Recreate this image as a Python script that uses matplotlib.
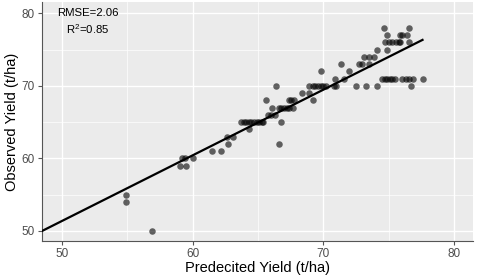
import numpy as np
import matplotlib
matplotlib.use("Agg")
import matplotlib.pyplot as plt

plt.rcParams["font.family"] = ["Liberation Sans", "DejaVu Sans"]
plt.rcParams["mathtext.fontset"] = "custom"
plt.rcParams["mathtext.rm"] = "Liberation Sans"
plt.rcParams["mathtext.it"] = "Liberation Sans"

# observed yield (t/ha) -> predicted yields
obs_levels = [50, 54, 55, 59, 60, 61, 62, 63, 64, 65, 66, 67, 68, 69,
              70, 71, 72, 73, 74, 75, 76, 77, 78]
pred_at_level = [
    [56.9],
    [54.9],
    [54.9],
    [59.0, 59.5],
    [59.2, 59.4, 60.0],
    [61.5, 62.2],
    [62.7, 66.6],
    [62.6, 63.1],
    [64.35],
    [63.7, 63.9, 64.1, 64.3, 64.5, 64.7, 64.9, 65.1, 65.3, 65.4, 66.8],
    [65.75, 66.0, 66.3],
    [66.1, 66.6, 66.8, 67.0, 67.2, 67.4, 67.7],
    [65.6, 67.4, 67.5, 67.8, 69.2],
    [68.4, 68.9],
    [66.4, 68.9, 69.2, 69.4, 69.6, 69.8, 70.0, 70.2, 70.8, 71.0, 72.5, 73.3, 74.1, 76.7],
    [70.9, 71.6, 74.5, 74.7, 74.9, 75.1, 75.3, 75.5, 76.05, 76.3, 76.6, 76.9, 77.6],
    [69.8, 72.0],
    [71.35, 72.7, 73.0, 73.5],
    [73.1, 73.5, 73.9],
    [74.1, 74.85],
    [74.7, 75.0, 75.3, 75.6, 75.8, 75.9, 76.6],
    [74.85, 75.9, 76.05, 76.4],
    [74.66, 76.6],
]

fit_slope = 0.904
fit_intercept = 6.18
rmse_label = "RMSE=2.06"
r2_label = "R$^{2}$=0.85"

pred = np.concatenate([np.array(p) for p in pred_at_level])
obs = np.concatenate([[lv] * len(p) for lv, p in zip(obs_levels, pred_at_level)])

fig = plt.figure(figsize=(4.8, 2.77), dpi=100)
ax = fig.add_axes([0.0875, 0.130, 0.8975, 0.863])
ax.set_facecolor("#EBEBEB")

ax.set_xlim(48.47, 81.45)
ax.set_ylim(48.62, 81.56)
ax.set_xticks([50, 60, 70, 80])
ax.set_yticks([50, 60, 70, 80])
ax.set_xticks([55, 65, 75], minor=True)
ax.set_yticks([55, 65, 75], minor=True)
ax.grid(which="major", color="white", linewidth=1.0)
ax.grid(which="minor", color="white", linewidth=0.5)
ax.set_axisbelow(True)

ax.scatter(pred, obs, s=22, color="black", alpha=0.6, linewidths=0, zorder=3)

xl = np.array([ax.get_xlim()[0], pred.max()])
ax.plot(xl, fit_intercept + fit_slope * xl, color="black", linewidth=1.6, zorder=4)

ax.text(52, 80, rmse_label, ha="center", va="center", fontsize=8.2, color="black")
ax.text(52, 77.8, r2_label, ha="center", va="center", fontsize=8.2, color="black")

for s in ["top", "right"]:
    ax.spines[s].set_visible(False)
for s in ["left", "bottom"]:
    ax.spines[s].set_color("#555555")
    ax.spines[s].set_linewidth(0.8)
ax.tick_params(which="major", length=3, width=0.8, color="#555555",
               labelcolor="#4D4D4D", labelsize=8.5, pad=2)
ax.tick_params(which="minor", length=0)

ax.set_xlabel("Predecited Yield (t/ha)", fontsize=10.5, labelpad=1)
ax.set_ylabel("Observed Yield (t/ha)", fontsize=10.5, labelpad=2)

fig.savefig("out.png", dpi=100)
